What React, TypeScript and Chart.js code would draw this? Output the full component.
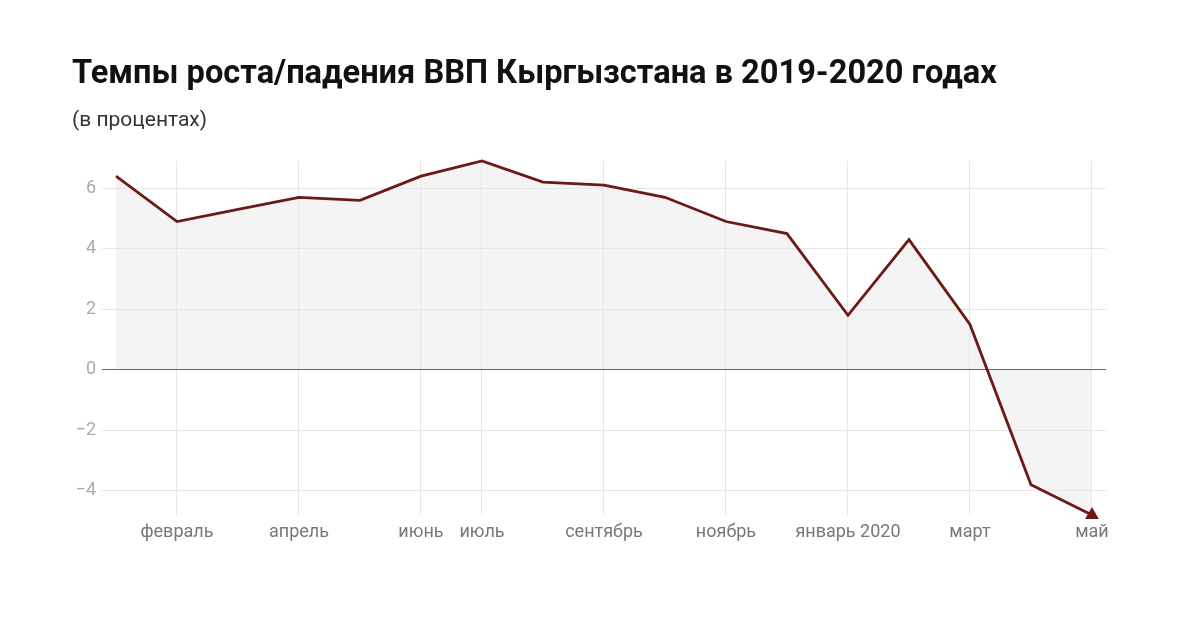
import React, { useEffect, useRef } from 'react'
import { Chart, registerables } from 'chart.js'

Chart.register(...registerables)

const months = [
	'январь', 'февраль', 'март', 'апрель', 'май', 'июнь', 'июль', 'август',
	'сентябрь', 'октябрь', 'ноябрь', 'декабрь', 'январь 2020', 'февраль',
	'март', 'апрель', 'май',
]
const shownMonths = [1, 3, 5, 6, 8, 10, 12, 14, 16]
const gdpGrowth = [6.4, 4.9, 5.3, 5.7, 5.6, 6.4, 6.9, 6.2, 6.1, 5.7, 4.9, 4.5, 1.8, 4.3, 1.5, -3.8, -4.8]
const yTicks = [-4, -2, 0, 2, 4, 6]

const LINE = '#6b1a16'
const FONT = 'Roboto, "Noto Sans", sans-serif'

const GdpChart: React.FC = () => {
	const chartRef = useRef<HTMLCanvasElement>(null)

	useEffect(() => {
		if (!chartRef.current) return
		const ctx = chartRef.current.getContext('2d')
		if (!ctx) return
		const last = gdpGrowth.length - 1

		const chart = new Chart(ctx, {
			type: 'line',
			data: {
				datasets: [
					{
						data: gdpGrowth.map((v, i) => ({ x: i, y: v })),
						borderColor: LINE,
						borderWidth: 2.8,
						backgroundColor: '#f4f4f4',
						fill: 'origin',
						tension: 0,
						clip: false,
						pointRadius: gdpGrowth.map((_, i) => (i === last ? 8 : 0)),
						pointStyle: 'triangle',
						pointBackgroundColor: LINE,
						pointBorderColor: LINE,
						pointBorderWidth: 0,
					},
				],
			},
			options: {
				animation: false,
				responsive: false,
				layout: { padding: { left: 60, right: 94, top: 161, bottom: 60 } },
				plugins: {
					legend: { display: false },
					tooltip: { enabled: false },
					filler: { drawTime: 'beforeDraw' },
				},
				scales: {
					x: {
						type: 'linear',
						min: 0,
						max: 16.23,
						border: { display: false },
						grid: { color: '#e6e6e6', lineWidth: 1, drawTicks: false },
						afterBuildTicks: (scale: any) => {
							scale.ticks = shownMonths.map((v) => ({ value: v }))
						},
						afterFit: (scale: any) => {
							scale.height = 630 - 515 - 60
						},
						ticks: {
							autoSkip: false,
							maxRotation: 0,
							padding: 7,
							color: '#777',
							font: { family: FONT, size: 18 },
							callback: (v: any) => months[v as number],
						},
					},
					y: {
						type: 'linear',
						min: -4.8,
						max: 6.9,
						border: { display: false },
						grid: {
							color: (c: any) => (c.tick && c.tick.value === 0 ? '#666' : '#e6e6e6'),
							lineWidth: 1,
							tickLength: 14,
						},
						afterBuildTicks: (scale: any) => {
							scale.ticks = yTicks.map((v) => ({ value: v }))
						},
						afterFit: (scale: any) => {
							scale.width = 116 - 60
						},
						ticks: {
							padding: 6,
							color: '#aaa',
							font: { family: FONT, size: 18 },
							callback: (v: any) => (v < 0 ? '\u2212' + Math.abs(v) : String(v)),
						},
					},
				},
			},
		})

		return () => {
			chart.destroy()
		}
	}, [])

	return <canvas ref={chartRef} width={1200} height={630} style={{ position: 'absolute', left: 0, top: 0 }} />
}

const App: React.FC = () => {
	return (
		<div style={{ position: 'fixed', left: 0, top: 0, width: 1200, height: 630, background: '#fff', fontFamily: FONT }}>
			<GdpChart />
			<div style={{ position: 'absolute', left: 72, top: 53, fontSize: 32.6, fontWeight: 700, color: '#111', whiteSpace: 'nowrap' }}>
				Темпы роста/падения ВВП Кыргызстана в 2019-2020 годах
			</div>
			<div style={{ position: 'absolute', left: 72, top: 107, fontSize: 21, color: '#333' }}>(в процентах)</div>
		</div>
	)
}

export default App
